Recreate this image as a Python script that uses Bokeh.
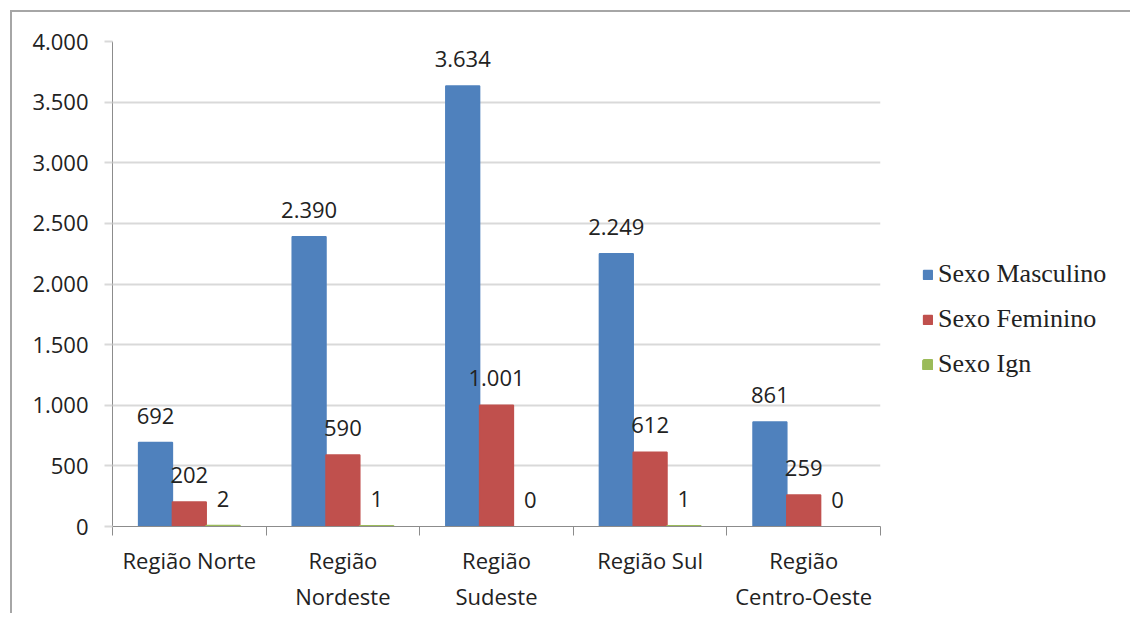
from bokeh.plotting import figure
from bokeh.models import (Range1d, LinearAxis, FixedTicker, ColumnDataSource)
from bokeh.transform import dodge
from bokeh.core.properties import value
from bokeh.embed import file_html
from bokeh.resources import INLINE

regions = ["Região Norte", "Região Nordeste", "Região Sudeste", "Região Sul", "Região Centro-Oeste"]
axis_labels = ["Região Norte", "Região\nNordeste", "Região\nSudeste", "Região Sul", "Região\nCentro-Oeste"]
series = ["Sexo Masculino", "Sexo Feminino", "Sexo Ign"]
masc = [692, 2390, 3634, 2249, 861]
fem = [202, 590, 1001, 612, 259]
ign = [2, 1, 0, 1, 0]
y_ticks = [0, 500, 1000, 1500, 2000, 2500, 3000, 3500, 4000]
y_tick_labels = ["0", "500", "1.000", "1.500", "2.000", "2.500", "3.000", "3.500", "4.000"]
colors = ["#4F81BD", "#C0504D", "#9BBB59"]


def fmt(v):
    return f"{v:,}".replace(",", ".")


pos = [i + 0.5 for i in range(len(regions))]
src = ColumnDataSource(dict(
    region=regions, pos=pos,
    masc=masc, fem=fem, ign=ign,
    masc_lbl=[fmt(v) for v in masc],
    fem_lbl=[fmt(v) for v in fem],
    ign_lbl=[fmt(v) for v in ign],
    ign_line=[1.0 if v > 0 else 0.0 for v in ign],
))

# canvas starts at page (12, 12) because of margin + border
p = figure(x_range=Range1d(0, len(regions)), y_range=Range1d(0, 4000),
           frame_width=768, frame_height=485, output_backend="svg", toolbar_location=None,
           x_axis_location=None,
           min_border_left=100, min_border_right=250, min_border_top=29, min_border_bottom=79)
p.margin = (10, 0, 0, 10)
p.styles = {"border-top": "2px solid #a6a6a6", "border-left": "2px solid #a6a6a6"}
p.outline_line_color = None
p.background_fill_color = "white"
p.border_fill_color = "white"

# grid
p.xgrid.grid_line_color = None
p.ygrid.ticker = FixedTicker(ticks=y_ticks)
p.ygrid.grid_line_color = "#d9d9d9"
p.ygrid.grid_line_width = 2

# y axis
ya = p.yaxis[0]
ya.ticker = FixedTicker(ticks=y_ticks)
ya.major_label_overrides = {t: l for t, l in zip(y_ticks, y_tick_labels)}
ya.axis_line_color = "#8c8c8c"
ya.major_tick_line_color = "#d9d9d9"
ya.major_tick_line_width = 2
ya.major_tick_in = 0
ya.major_tick_out = 8
ya.minor_tick_line_color = None
ya.major_label_standoff = 16
ya.major_label_text_font = "Open Sans"
ya.major_label_text_font_size = "22px"
ya.major_label_text_color = "#222222"

# x axis: boundary ticks + category labels
bounds = list(range(len(regions) + 1))
tick_axis = LinearAxis(ticker=FixedTicker(ticks=bounds),
                       major_label_overrides={b: "" for b in bounds}, major_label_standoff=0,
                       major_tick_out=9, major_tick_in=0, major_tick_line_color="#8c8c8c",
                       axis_line_color="#8c8c8c", minor_tick_line_color=None)
p.add_layout(tick_axis, "below")
cat_axis = LinearAxis(ticker=FixedTicker(ticks=pos), major_tick_line_color=None,
                      axis_line_color=None, minor_tick_line_color=None,
                      major_label_overrides=dict(zip(pos, axis_labels)),
                      major_label_text_font="Open Sans", major_label_text_font_size="22px",
                      major_label_text_color="#222222", major_label_standoff=3)
p.add_layout(cat_axis, "below")

# bars
w = 0.22
offs = [-w, 0.0, w]
cols = ["masc", "fem", "ign"]
for c, o, col, name in zip(cols, offs, colors, series):
    kw = dict(line_color=col, line_width=1.5)
    if c == "ign":
        kw["line_alpha"] = "ign_line"
        kw["line_width"] = 3
    p.vbar(x=dodge("pos", o), top=c, width=w, source=src,
           fill_color=col, legend_label=name, **kw)
    p.text(x=dodge("pos", o), y=c, text=c + "_lbl", source=src,
           text_align="center", text_baseline="middle", y_offset=-27,
           text_font=value("Open Sans"), text_font_size="22px", text_color="#222222")

# legend (moved to right side panel so it is not clipped)
lg = p.legend[0]
p.center.remove(lg)
p.add_layout(lg, "right")
lg.location = (42, 147)
lg.border_line_color = None
lg.background_fill_alpha = 0
lg.label_text_font = "Liberation Serif"
lg.label_text_font_size = "26px"
lg.label_text_color = "#222222"
lg.glyph_width = 11
lg.glyph_height = 11
lg.label_standoff = 5
lg.label_height = 30
lg.spacing = 15
lg.padding = 0
lg.margin = 0

open("out.html", "w").write(file_html(p, INLINE))
